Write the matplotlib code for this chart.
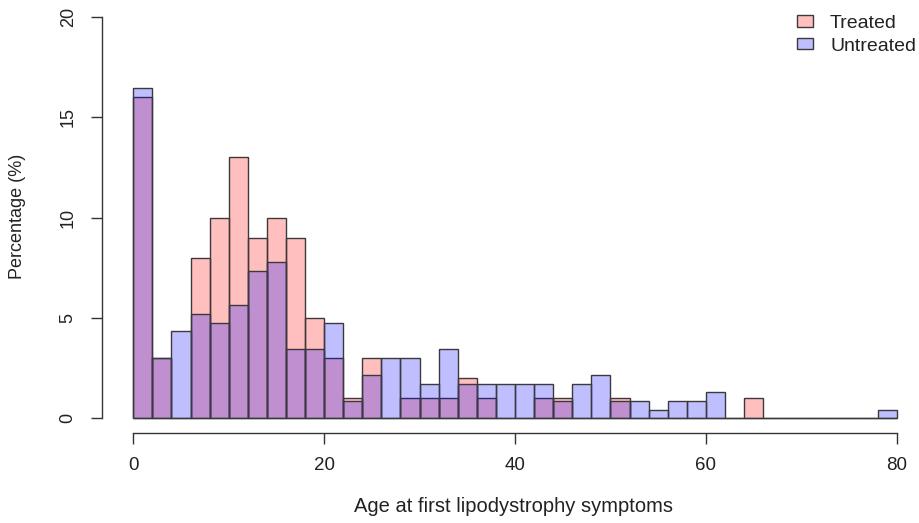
import numpy as np
import matplotlib
matplotlib.use("Agg")
import matplotlib.pyplot as plt

# ---- data (percentages per 2-year bin, 0..80) ----
bin_edges = list(range(0, 82, 2))
treated = [16, 3, 0, 8, 10, 13, 9, 10, 9, 5,
           3, 1, 3, 0, 1, 1, 1, 2, 1, 0,
           0, 1, 1, 0, 0, 1, 0, 0, 0, 0,
           0, 0, 1, 0, 0, 0, 0, 0, 0, 0]
untreated = [16.45, 3.03, 4.33, 5.19, 4.76, 5.63, 7.36, 7.79, 3.46, 3.46,
             4.76, 0.87, 2.16, 3.03, 3.03, 1.73, 3.46, 1.73, 1.73, 1.73,
             1.73, 1.73, 0.87, 1.73, 2.16, 0.87, 0.87, 0.43, 0.87, 0.87,
             1.30, 0, 0, 0, 0, 0, 0, 0, 0, 0.43]
series_names = ["Treated", "Untreated"]
x_ticks = [0, 20, 40, 60, 80]
y_ticks = [0, 5, 10, 15, 20]
x_label = "Age at first lipodystrophy symptoms"
y_label = "Percentage (%)"

plt.rcParams['font.family'] = ['Liberation Sans', 'DejaVu Sans']

W, H = 919, 523
fig = plt.figure(figsize=(W / 100, H / 100), dpi=100)
# data area: x 0->133.3px, 80->896.7px ; y 0->418.3px, 20->17px (from top)
x0, x1 = 133.3, 896.7
yb, yt = 418.3, 17.0
ax = fig.add_axes([x0 / W, (H - yb) / H, (x1 - x0) / W, (yb - yt) / H])

left = np.array(bin_edges[:-1])
edge_col = '#3a3a3a'
b1 = ax.bar(left, treated, width=2, align='edge', facecolor=(1, 0, 0, 0.25),
            edgecolor=edge_col, linewidth=1.0, clip_on=False, label=series_names[0])
b2 = ax.bar(left, untreated, width=2, align='edge', facecolor=(0, 0, 1, 0.25),
            edgecolor=edge_col, linewidth=1.0, clip_on=False, label=series_names[1])

ax.set_xlim(0, 80)
ax.set_ylim(0, 20)
for s in ['top', 'right']:
    ax.spines[s].set_visible(False)
ax.spines['left'].set_position(('outward', (x0 - 101.7) * 0.72))
ax.spines['bottom'].set_position(('outward', (433.3 - yb) * 0.72))
ax.spines['left'].set_bounds(0, 20)
ax.spines['bottom'].set_bounds(0, 80)
for s in ['left', 'bottom']:
    ax.spines[s].set_color('#333333')
    ax.spines[s].set_linewidth(1.0)

ax.set_xticks(x_ticks)
ax.set_yticks(y_ticks)
ax.set_xticklabels([str(v) for v in x_ticks])
ax.set_yticklabels([str(v) for v in y_ticks], rotation=90, va='center')
ax.tick_params(axis='both', direction='out', length=8, width=1.0, color='#333333',
               labelcolor='#222222')
ax.tick_params(axis='y', pad=10, labelsize=13)
ax.tick_params(axis='x', pad=9, labelsize=13.5)

fig.text(514 / W, 1 - 507 / H, x_label, ha='center', va='center', fontsize=14.5, color='#222222')
fig.text(18 / W, 1 - 216 / H, y_label, ha='center', va='center', rotation=90, fontsize=13, color='#222222')

leg = ax.legend(handles=[b1, b2], loc='upper right', bbox_to_anchor=(919 / W, 1 - 12 / H),
                bbox_transform=fig.transFigure, frameon=False, fontsize=14,
                handlelength=0.8, handleheight=0.5, handletextpad=0.9,
                labelspacing=0.3, borderpad=0.15, borderaxespad=0)
for t in leg.get_texts():
    t.set_color('#222222')

fig.savefig('out.png', dpi=100)
